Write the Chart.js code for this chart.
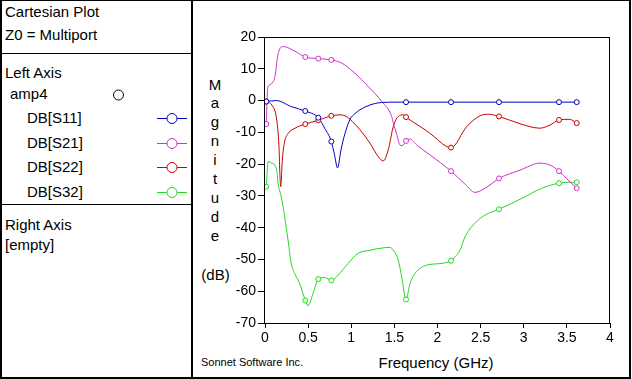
<!DOCTYPE html>
<html>
<head>
<meta charset="utf-8">
<script src="https://cdn.jsdelivr.net/npm/chart.js@4/dist/chart.umd.min.js"></script>
<style>
  html, body { margin: 0; padding: 0; background: #fff; }
  body { width: 632px; height: 379px; position: relative; overflow: hidden;
         font-family: "Liberation Sans", Arial, sans-serif; color: #000; }
  .frame { position: absolute; left: 0; top: 0; width: 631px; height: 379px; box-sizing: border-box;
           border-left: 2px solid #000; border-top: 1px solid #000; border-right: 2px solid #000; border-bottom: 2px solid #000; }
  .vline { position: absolute; left: 191px; top: 0; width: 2px; height: 379px; background: #000; }
  .hline { position: absolute; left: 0; width: 192px; height: 1px; background: #000; }
  .t { position: absolute; font-size: 15px; line-height: 18px; white-space: nowrap; }
  #wrap { position: absolute; left: 0; top: 0; width: 632px; height: 379px; }
  svg { position: absolute; left: 0; top: 0; }
</style>
</head>
<body>
<div class="frame"></div>
<div class="vline"></div>
<div class="hline" style="top:53px"></div>
<div class="hline" style="top:204px"></div>

<div class="t" style="left:5px;top:3px">Cartesian Plot</div>
<div class="t" style="left:5px;top:26px">Z0 = Multiport</div>
<div class="t" style="left:5px;top:64px">Left Axis</div>
<div class="t" style="left:10px;top:85px">amp4</div>
<div class="t" style="left:27px;top:109px">DB[S11]</div>
<div class="t" style="left:27px;top:134px">DB[S21]</div>
<div class="t" style="left:27px;top:158px">DB[S22]</div>
<div class="t" style="left:27px;top:183px">DB[S32]</div>
<div class="t" style="left:5px;top:216px">Right Axis</div>
<div class="t" style="left:5px;top:236px">[empty]</div>

<svg id="legendSvg" width="193" height="379"></svg>

<div class="t" style="left:200px;top:75.5px;width:30px;text-align:center;line-height:18.96px">M<br>a<br>g<br>n<br>i<br>t<br>u<br>d<br>e</div>
<div class="t" style="left:195px;top:266px;width:41px;text-align:center">(dB)</div>
<div class="t" style="left:336px;top:354px;width:200px;text-align:center">Frequency (GHz)</div>
<div class="t" style="left:201px;top:355px;font-size:11px;line-height:14px">Sonnet Software Inc.</div>

<div id="wrap"><canvas id="c" width="632" height="379"></canvas></div>

<script>
// ---- Data ----
const seriesNames = ["DB[S11]", "DB[S21]", "DB[S22]", "DB[S32]"];
const seriesColors = ["#0000c0", "#cc33cc", "#c80000", "#22d822"];

const markerFreq = [0.015, 0.467, 0.618, 0.769, 1.635, 2.157, 2.713, 3.409, 3.614];
const s11Marks = [-0.3, -3.3, -5.4, -12.9, -0.5, -0.5, -0.5, -0.5, -0.5];
const s21Marks = [-7.4, 13.7, 13.2, 12.8, -12.7, -22.2, -24.5, -22.2, -27.6];
const s22Marks = [-0.3, -7.4, -6.2, -4.8, -5.2, -14.8, -5.0, -6.1, -7.1];
const s32Marks = [-27.1, -62.9, -56.2, -56.6, -62.6, -50.4, -34.2, -26.0, -25.7];

const s11Freq = [0.015, 0.131, 0.305, 0.467, 0.618, 0.692, 0.769, 0.806, 0.841, 0.881, 0.928, 0.986, 1.043, 1.101, 1.217, 1.353, 1.507, 1.635, 2.157, 2.713, 3.409, 3.614];
const s11Db   = [-0.3, 0.0, -1.9, -3.3, -5.4, -8.7, -12.9, -17.1, -21.2, -15.5, -10.3, -5.9, -4.1, -2.9, -1.4, -0.6, -0.5, -0.5, -0.5, -0.5, -0.5, -0.5];

const s21Freq = [0.015, 0.031, 0.058, 0.096, 0.116, 0.147, 0.186, 0.212, 0.348, 0.467, 0.618, 0.769, 0.889, 1.043, 1.198, 1.353, 1.469, 1.488, 1.527, 1.565, 1.590, 1.635, 1.681, 1.759, 1.913, 2.157, 2.319, 2.435, 2.574, 2.713, 2.957, 3.188, 3.304, 3.409, 3.513, 3.614];
const s21Db   = [-7.4, 3.9, 5.0, 6.0, 7.6, 13.9, 16.8, 17.0, 15.5, 13.7, 13.2, 12.8, 11.8, 8.6, 4.4, -0.3, -5.0, -7.1, -10.6, -14.0, -14.2, -12.7, -12.1, -14.0, -17.1, -22.2, -26.3, -28.9, -27.2, -24.5, -21.9, -19.7, -20.3, -22.2, -25.0, -27.6];

const s22Freq = [0.015, 0.078, 0.136, 0.162, 0.174, 0.182, 0.201, 0.224, 0.270, 0.348, 0.467, 0.618, 0.769, 0.870, 0.928, 0.986, 1.101, 1.217, 1.314, 1.372, 1.429, 1.487, 1.545, 1.603, 1.635, 1.913, 2.107, 2.157, 2.339, 2.493, 2.589, 2.713, 2.957, 3.188, 3.304, 3.409, 3.530, 3.614];
const s22Db   = [-0.3, -1.4, -6.1, -14.5, -24.0, -27.1, -18.7, -13.4, -10.3, -8.7, -7.4, -6.2, -4.8, -4.5, -4.8, -5.9, -9.2, -13.4, -17.7, -19.0, -15.5, -8.2, -5.0, -4.5, -5.2, -10.3, -14.5, -14.8, -8.2, -4.8, -4.3, -5.0, -7.3, -8.7, -7.7, -6.1, -5.9, -7.1];

const s32Freq = [0.015, 0.035, 0.073, 0.136, 0.151, 0.189, 0.228, 0.267, 0.305, 0.344, 0.402, 0.467, 0.499, 0.557, 0.618, 0.692, 0.769, 0.846, 0.962, 1.078, 1.217, 1.333, 1.449, 1.487, 1.545, 1.585, 1.635, 1.681, 1.739, 1.875, 2.029, 2.157, 2.203, 2.261, 2.319, 2.473, 2.589, 2.713, 2.976, 3.208, 3.409, 3.556, 3.614];
const s32Db   = [-27.1, -19.2, -19.6, -21.9, -26.0, -30.3, -36.6, -43.9, -51.3, -54.4, -57.6, -62.9, -64.6, -60.7, -56.2, -55.7, -56.6, -55.0, -51.3, -48.1, -47.1, -46.5, -46.2, -47.1, -50.2, -55.5, -62.6, -57.6, -54.4, -51.8, -51.3, -50.4, -49.2, -47.1, -42.9, -37.6, -35.5, -34.2, -30.8, -27.6, -26.0, -25.7, -25.7];

const xTickStep = 0.5, xMin = 0, xMax = 4;
const yTickStep = 10, yMin = -70, yMax = 20;

// ---- Legend symbols in left panel ----
(function () {
  const svg = document.getElementById("legendSvg");
  const ns = "http://www.w3.org/2000/svg";
  const mk = (tag, attrs) => { const e = document.createElementNS(ns, tag); for (const k in attrs) e.setAttribute(k, attrs[k]); svg.appendChild(e); return e; };
  mk("circle", { cx: 118.5, cy: 95, r: 5, fill: "#fff", stroke: "#000", "stroke-width": 1 });
  const rows = [118, 143, 167, 192];
  rows.forEach((y, i) => {
    mk("line", { x1: 157, y1: y + 0.5, x2: 187, y2: y + 0.5, stroke: seriesColors[i], "stroke-width": 1 });
    mk("circle", { cx: 172, cy: y + 0.5, r: 5, fill: "#fff", stroke: seriesColors[i], "stroke-width": 1 });
  });
})();

// ---- Chart ----
const toPts = (xs, ys) => xs.map((x, i) => ({ x: x, y: ys[i] }));
const curves = [[s11Freq, s11Db], [s21Freq, s21Db], [s22Freq, s22Db], [s32Freq, s32Db]];
const marks = [s11Marks, s21Marks, s22Marks, s32Marks];

const datasets = [];
seriesNames.forEach((name, i) => {
  datasets.push({
    label: name + " markers",
    data: toPts(markerFreq, marks[i]),
    showLine: false,
    pointRadius: 2.5,
    pointBorderWidth: 1,
    pointBorderColor: seriesColors[i],
    pointBackgroundColor: "#ffffff",
    order: 0
  });
  datasets.push({
    label: name,
    data: toPts(curves[i][0], curves[i][1]),
    showLine: true,
    borderColor: seriesColors[i],
    borderWidth: 1,
    pointRadius: 0,
    cubicInterpolationMode: "monotone",
    fill: false,
    order: 1
  });
});

const framePlugin = {
  id: "frame",
  afterDraw(chart) {
    const a = chart.chartArea, ctx = chart.ctx;
    ctx.save();
    ctx.strokeStyle = "#000";
    ctx.lineWidth = 1;
    ctx.strokeRect(Math.round(a.left) - 0.5, Math.round(a.top) + 0.5, Math.round(a.right - a.left), Math.round(a.bottom - a.top));
    ctx.restore();
  }
};

const tickFont = { family: "'Liberation Sans', Arial, sans-serif", size: 14 };
const fmt = v => String(Number(Number(v).toFixed(2)));

new Chart(document.getElementById("c"), {
  type: "scatter",
  data: { datasets: datasets },
  plugins: [framePlugin],
  options: {
    responsive: false,
    animation: false,
    devicePixelRatio: 1,
    layout: { padding: { left: 200, top: 37, right: 22, bottom: 26 } },
    plugins: { legend: { display: false }, tooltip: { enabled: false }, title: { display: false } },
    scales: {
      x: {
        type: "linear", min: xMin, max: xMax,
        ticks: { stepSize: xTickStep, color: "#000", font: tickFont, padding: 2, maxRotation: 0, callback: fmt },
        grid: { display: true, drawOnChartArea: false, drawTicks: true, tickLength: 5, color: "#000" },
        border: { display: false },
        afterFit(scale) { scale.height = 30; }
      },
      y: {
        type: "linear", min: yMin, max: yMax,
        ticks: { stepSize: yTickStep, color: "#000", font: tickFont, padding: 2, callback: fmt },
        grid: { display: true, drawOnChartArea: false, drawTicks: true, tickLength: 7, color: "#000" },
        border: { display: false },
        afterFit(scale) { scale.width = 65; }
      }
    }
  }
});
</script>
</body>
</html>
